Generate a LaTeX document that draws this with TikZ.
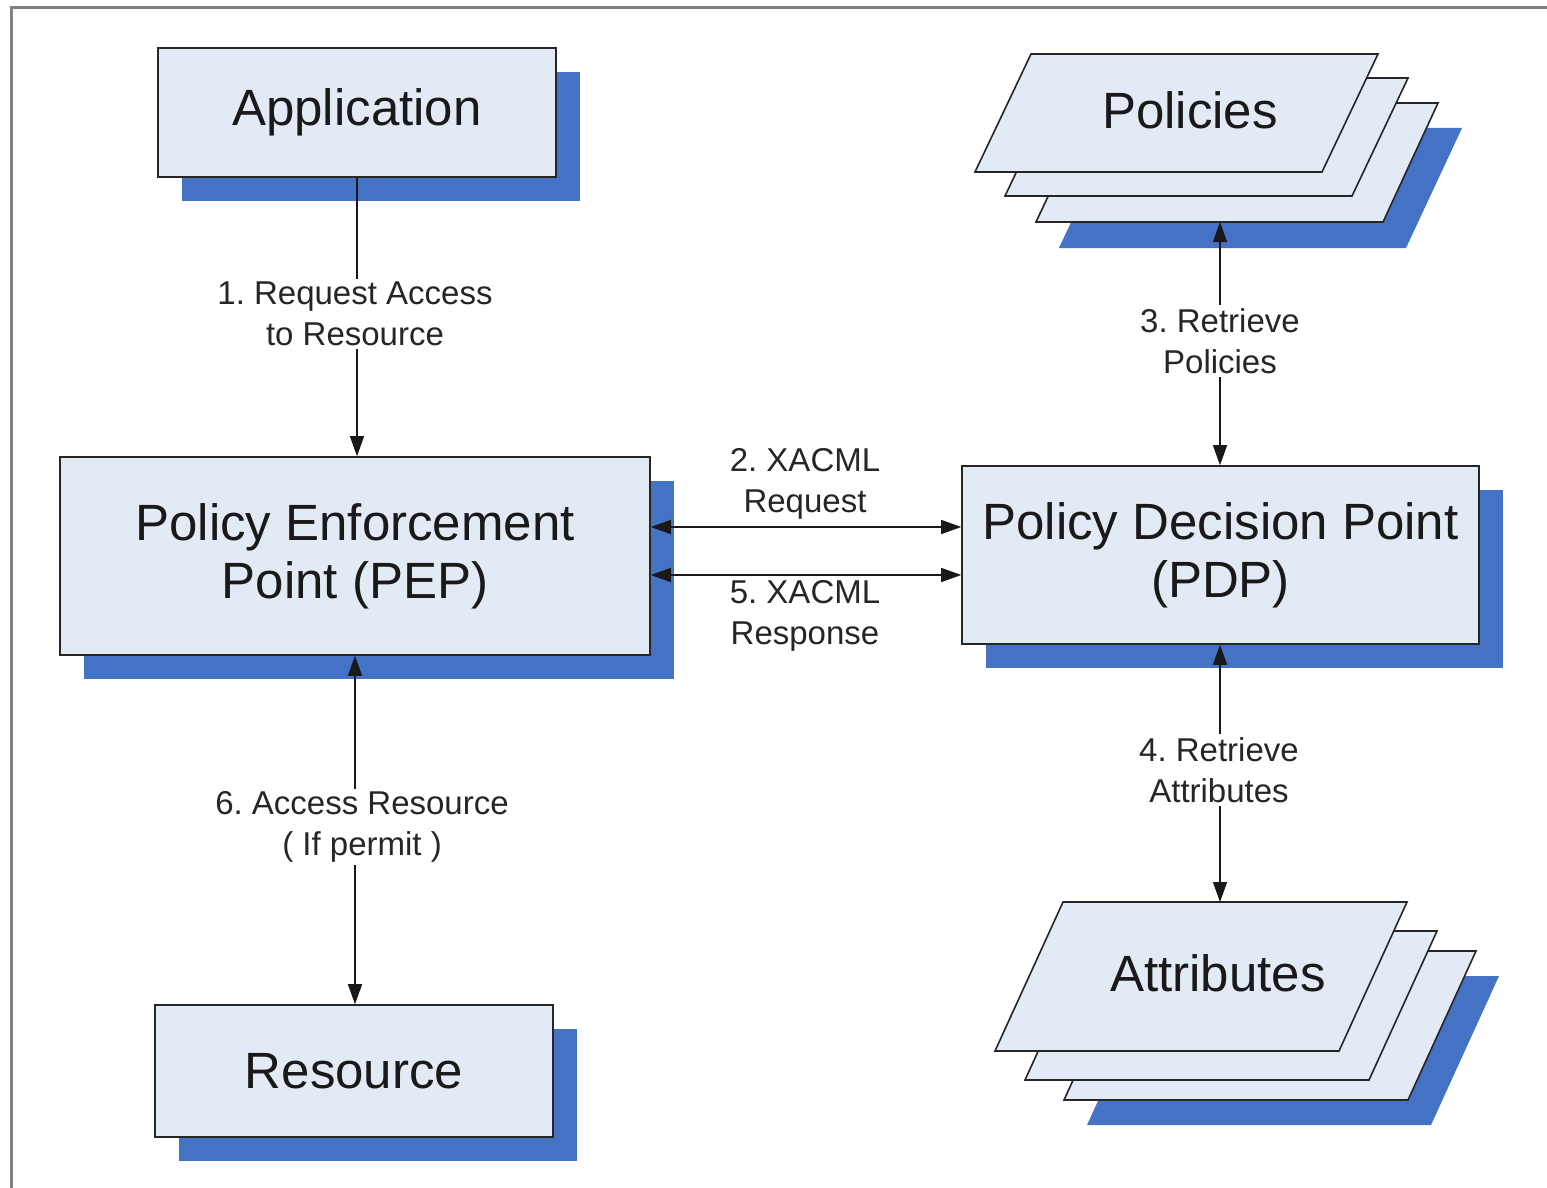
\documentclass[tikz,border=0pt]{standalone}
\usepackage{fontspec}
\setmainfont{Liberation Sans}
\frenchspacing
\usetikzlibrary{arrows.meta,shadows}
\definecolor{boxfill}{RGB}{226,234,246}
\definecolor{shblue}{RGB}{68,114,196}
\definecolor{framegray}{RGB}{128,128,128}
\tikzset{
  bigbox/.style={draw=black!85, line width=1.6pt, fill=boxfill, inner sep=0pt,
    align=center, text=black!90, font=\fontsize{51}{58}\selectfont,
    drop shadow={shadow xshift=24pt, shadow yshift=-24pt, fill=shblue, opacity=1}},
  layer/.style={draw=black!85, line width=1.6pt, fill=boxfill},
  layershadow/.style={fill=shblue, draw=none},
  bigtext/.style={font=\fontsize{51}{58}\selectfont, text=black!90},
  lbl/.style={fill=white, inner sep=3pt, align=center, text=black!85,
    font=\fontsize{33}{41}\selectfont},
  conn/.style={line width=1.5pt, draw=black!90},
  tip/.style={-{Triangle[length=20pt,width=14pt]}},
  tips/.style={{Triangle[length=20pt,width=14pt]}-{Triangle[length=20pt,width=14pt]}}
}
\begin{document}
\begin{tikzpicture}[x=1pt,y=-1pt]
\useasboundingbox (0,0) rectangle (1547,1188);
\fill[white] (0,0) rectangle (1547,1188);
% frame
\draw[framegray, line width=3pt] (11,1188) -- (11,8) -- (1547,8);

% boxes
\node[bigbox, minimum width=398pt, minimum height=129pt] (app) at (357,112.5) {Application};
\node[bigbox, minimum width=590pt, minimum height=198pt] (pep) at (355,556) {Policy Enforcement\\Point (PEP)};
\node[bigbox, minimum width=398pt, minimum height=132pt] (res) at (354,1071) {Resource};
\node[bigbox, minimum width=517pt, minimum height=178pt] (pdp) at (1220.5,555) {Policy Decision Point\\(PDP)};

% Policies stack
\fill[layershadow] (1115,128) -- (1462,128) -- (1406,248) -- (1059,248) -- cycle;
\draw[layer] (1092,103) -- (1438,103) -- (1383,222) -- (1036,222) -- cycle;
\draw[layer] (1061,78) -- (1408,78) -- (1352,196) -- (1005,196) -- cycle;
\draw[layer] (1031,54) -- (1378,54) -- (1322,172) -- (975,172) -- cycle;
\node[bigtext] (pol) at (1190,110) {Policies};
\coordinate (polb) at (1220,222);

% Attributes stack
\fill[layershadow] (1155,976) -- (1499,976) -- (1431,1125) -- (1087,1125) -- cycle;
\draw[layer] (1132,951) -- (1476,951) -- (1408,1100) -- (1064,1100) -- cycle;
\draw[layer] (1093,931) -- (1437,931) -- (1369,1080) -- (1025,1080) -- cycle;
\draw[layer] (1063,902) -- (1407,902) -- (1339,1051) -- (995,1051) -- cycle;
\node[bigtext] (att) at (1218,973) {Attributes};
\coordinate (attt) at (1220,902);

% connectors
\coordinate (h1) at (805,527);
\coordinate (h2) at (805,575);
\draw[conn, tip] (app.south) -- (app.south |- pep.north);
\draw[conn, tips] (pep.east |- h1) -- (pdp.west |- h1);
\draw[conn, tips] (pep.east |- h2) -- (pdp.west |- h2);
\draw[conn, tips] (polb) -- (polb |- pdp.north);
\draw[conn, tips] (attt |- pdp.south) -- (attt);
\draw[conn, tips] (pep.south) -- (pep.south |- res.north);

% labels
\node[lbl] (l1) at (355,314) {1. Request Access\\to Resource};
\node[lbl] (l2) at (805,484) {2. XACML\\Request};
\node[lbl] (l5) at (805,616) {5. XACML\\Response};
\node[lbl] (l3) at (1220,341) {3. Retrieve\\Policies};
\node[lbl] (l4) at (1219,770) {4. Retrieve\\Attributes};
\node[lbl] (l6) at (362,827) {6. Access Resource\\( If permit )};
\end{tikzpicture}
\end{document}
